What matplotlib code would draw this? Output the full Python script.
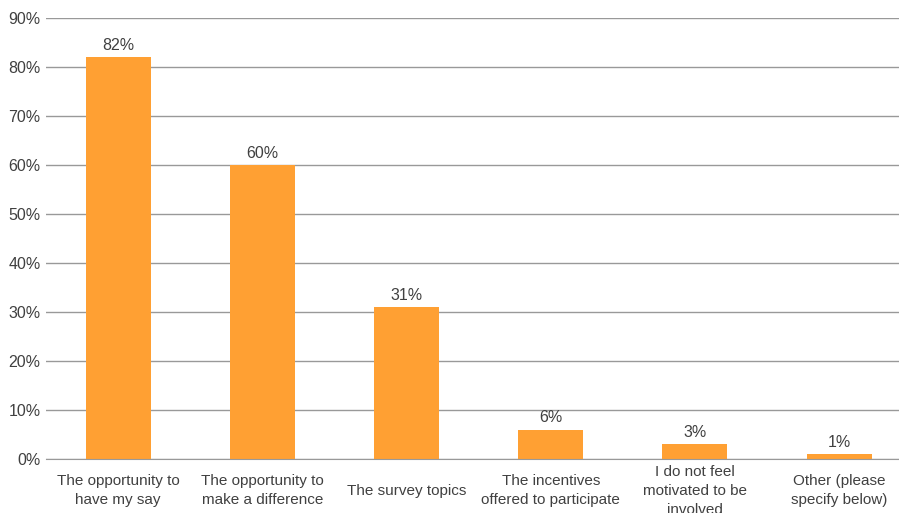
import matplotlib.pyplot as plt

categorias = [
    "The opportunity to\nhave my say",
    "The opportunity to\nmake a difference",
    "The survey topics",
    "The incentives\noffered to participate",
    "I do not feel\nmotivated to be\ninvolved",
    "Other (please\nspecify below)",
]
porcentajes = [82, 60, 31, 6, 3, 1]
ticks_y = [0, 10, 20, 30, 40, 50, 60, 70, 80, 90]

plt.rcParams["font.family"] = ["Liberation Sans", "DejaVu Sans"]
color_texto = "#404040"

fig = plt.figure(figsize=(8.99, 5.13), dpi=100)
ax = fig.add_axes([46 / 899, 1 - 459 / 513, 1 - 46 / 899, (459 - 18) / 513])

posiciones = range(len(categorias))
barras = ax.bar(posiciones, porcentajes, width=0.45, color="#FFA033", zorder=3)

# valor encima de cada barra
for barra, valor in zip(barras, porcentajes):
    ax.annotate(
        f"{valor}%",
        (barra.get_x() + barra.get_width() / 2, barra.get_height()),
        xytext=(0, 3),
        textcoords="offset points",
        ha="center",
        va="bottom",
        fontsize=11.5,
        color=color_texto,
    )

# la ultima categoria queda cortada por el borde derecho
ax.set_xlim(-0.5, 5.415)
ax.set_ylim(0, 90)
ax.set_yticks(ticks_y)
ax.set_yticklabels([f"{t}%" for t in ticks_y], fontsize=11.5, color=color_texto)
ax.set_xticks(list(posiciones))
ax.set_xticklabels(categorias, fontsize=11, color=color_texto, linespacing=1.45)
for etiqueta in ax.get_xticklabels():
    etiqueta.set_va("center")

ax.tick_params(axis="x", length=0, pad=23)
ax.tick_params(axis="y", length=0, pad=4)
ax.grid(axis="y", color="#999999", linewidth=1, zorder=0)
for lado in ["top", "right", "left"]:
    ax.spines[lado].set_visible(False)
ax.spines["bottom"].set_color("#999999")
ax.spines["bottom"].set_zorder(4)

fig.savefig("out.png", dpi=100)
plt.close(fig)
